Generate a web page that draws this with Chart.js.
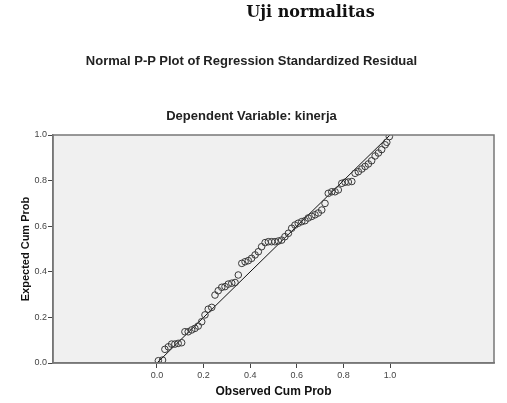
<!DOCTYPE html>
<html>
<head>
<meta charset="utf-8">
<script src="https://cdn.jsdelivr.net/npm/chart.js@4/dist/chart.umd.min.js"></script>
<style>
  html, body { margin: 0; padding: 0; background: #fff; }
  #wrap { position: relative; width: 507px; height: 403px; }
  canvas { position: absolute; left: 0; top: 0; }
  .t { position: absolute; left: 0; width: 507px; text-align: center; color: #111; white-space: nowrap; line-height: 15px; }
  #t1 { top: 3px; left: 57px; font: bold 16px "DejaVu Serif", serif; line-height: 18px; }
  #t2 { top: 53px; left: -2px; font: bold 13px "Liberation Sans", Arial, sans-serif; line-height: 15px; color: #222; }
  #t3 { top: 108px; left: -2px; font: bold 13px "Liberation Sans", Arial, sans-serif; line-height: 15px; color: #222; }
</style>
</head>
<body>
<div id="wrap">
  <canvas id="c" width="507" height="403"></canvas>
  <div class="t" id="t1">Uji normalitas</div>
  <div class="t" id="t2">Normal P-P Plot of Regression Standardized Residual</div>
  <div class="t" id="t3">Dependent Variable: kinerja</div>
</div>
<script>
// Observed cumulative probabilities (x)
const observedCumProb = [
  0.006, 0.024, 0.034, 0.049, 0.063, 0.077, 0.091, 0.106, 0.120, 0.134,
  0.149, 0.163, 0.177, 0.192, 0.206, 0.220, 0.235, 0.249, 0.263, 0.278,
  0.292, 0.306, 0.321, 0.335, 0.349, 0.364, 0.378, 0.392, 0.406, 0.421,
  0.435, 0.449, 0.464, 0.478, 0.492, 0.506, 0.521, 0.535, 0.549, 0.564,
  0.578, 0.592, 0.606, 0.621, 0.635, 0.649, 0.664, 0.678, 0.692, 0.707,
  0.721, 0.735, 0.750, 0.764, 0.778, 0.793, 0.807, 0.821, 0.836, 0.850,
  0.864, 0.879, 0.893, 0.907, 0.921, 0.936, 0.950, 0.964, 0.979, 0.986,
  0.997
];
// Expected cumulative probabilities (y)
const expectedCumProb = [
  0.010, 0.013, 0.060, 0.071, 0.083, 0.083, 0.086, 0.089, 0.137, 0.137,
  0.145, 0.152, 0.162, 0.181, 0.211, 0.236, 0.244, 0.298, 0.317, 0.332,
  0.335, 0.346, 0.350, 0.353, 0.386, 0.437, 0.444, 0.449, 0.459, 0.474,
  0.488, 0.510, 0.528, 0.532, 0.532, 0.532, 0.535, 0.539, 0.554, 0.569,
  0.591, 0.605, 0.613, 0.620, 0.624, 0.636, 0.643, 0.650, 0.658, 0.671,
  0.700, 0.744, 0.751, 0.751, 0.759, 0.788, 0.793, 0.794, 0.796, 0.832,
  0.839, 0.851, 0.862, 0.873, 0.887, 0.908, 0.921, 0.936, 0.957, 0.968,
  0.993
];
// Reference (diagonal) line end points
const refLineX = [0, 1];
const refLineY = [0, 1];
// Tick labels
const xTicks = [0.0, 0.2, 0.4, 0.6, 0.8, 1.0];
const yTicks = [0.0, 0.2, 0.4, 0.6, 0.8, 1.0];

const pts = observedCumProb.map((x, i) => ({ x: x, y: expectedCumProb[i] }));
const line = refLineX.map((x, i) => ({ x: x, y: refLineY[i] }));

const plotBg = {
  id: 'plotBg',
  beforeDraw(chart) {
    const { ctx, chartArea: a } = chart;
    ctx.save();
    ctx.fillStyle = '#f0f0f0';
    ctx.fillRect(a.left, a.top, a.right - a.left, a.bottom - a.top);
    ctx.restore();
  },
  afterDraw(chart) {
    const { ctx, chartArea: a } = chart;
    ctx.save();
    ctx.strokeStyle = '#777';
    ctx.lineWidth = 1.5;
    ctx.strokeRect(a.left, a.top, a.right - a.left, a.bottom - a.top);
    ctx.restore();
  }
};

const tickFont = { family: '"Liberation Sans", Arial, sans-serif', size: 9 };
const xTitleFont = { family: '"Liberation Sans", Arial, sans-serif', size: 12, weight: 'bold' };
const yTitleFont = { family: '"Liberation Sans", Arial, sans-serif', size: 11, weight: 'bold' };

new Chart(document.getElementById('c'), {
  type: 'scatter',
  data: {
    datasets: [
      {
        type: 'line',
        data: line,
        borderColor: '#111',
        borderWidth: 1,
        pointRadius: 0,
        fill: false,
        order: 2
      },
      {
        data: pts,
        pointRadius: 3.3,
        pointBorderWidth: 1,
        pointBorderColor: '#3a3a3a',
        pointBackgroundColor: 'rgba(0,0,0,0)',
        order: 1
      }
    ]
  },
  options: {
    responsive: false,
    animation: false,
    devicePixelRatio: 1,
    layout: { padding: { top: 135, right: 13, left: 0, bottom: 0 } },
    plugins: { legend: { display: false }, tooltip: { enabled: false }, title: { display: false } },
    scales: {
      x: {
        type: 'linear',
        min: -0.446,
        max: 1.446,
        afterFit(s) { s.height = 40; },
        afterBuildTicks(s) { s.ticks = xTicks.map(v => ({ value: v })); },
        ticks: {
          font: tickFont, color: '#444', padding: 2, maxRotation: 0,
          callback: v => Number(v).toFixed(1)
        },
        grid: { drawOnChartArea: false, drawTicks: true, tickLength: 5, color: '#444', tickWidth: 1 },
        border: { display: true, color: '#777', width: 1.5 },
        title: { display: true, text: 'Observed Cum Prob', font: xTitleFont, color: '#111', padding: { top: 0, bottom: 4 } }
      },
      y: {
        type: 'linear',
        min: 0,
        max: 1,
        afterFit(s) { s.width = 53; },
        afterBuildTicks(s) { s.ticks = yTicks.map(v => ({ value: v })); },
        ticks: {
          font: tickFont, color: '#444', padding: 1,
          callback: v => Number(v).toFixed(1)
        },
        grid: { drawOnChartArea: false, drawTicks: true, tickLength: 5, color: '#444', tickWidth: 1 },
        border: { display: true, color: '#777', width: 1.5 },
        title: { display: true, text: 'Expected Cum Prob', font: yTitleFont, color: '#111', padding: { top: 19, bottom: 0 } }
      }
    }
  },
  plugins: [plotBg]
});
</script>
</body>
</html>
